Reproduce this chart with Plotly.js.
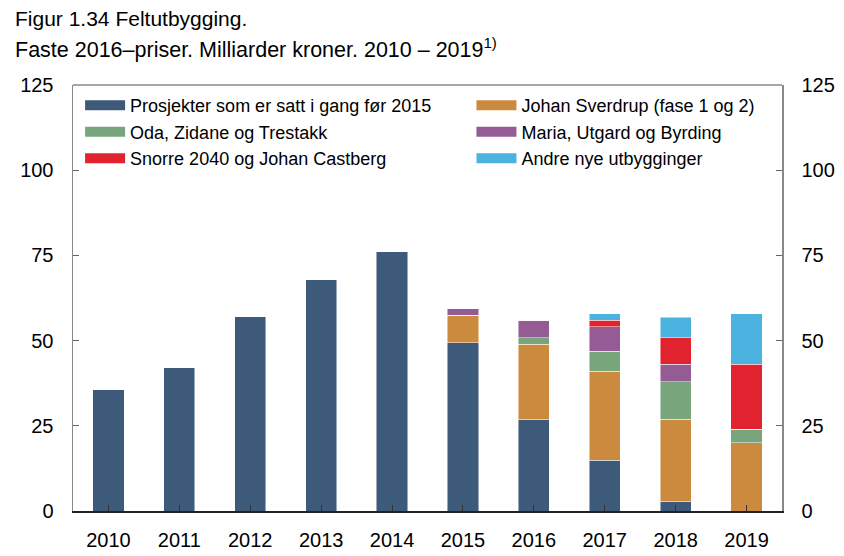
<!DOCTYPE html>
<html>
<head>
<meta charset="utf-8">
<script src="https://cdn.plot.ly/plotly-3.0.1.min.js"></script>
<style>
  html, body { margin: 0; padding: 0; background: #fff; }
  #chart { width: 844px; height: 556px; }
</style>
</head>
<body>
<div id="chart"></div>
<script>
// År og verdier (milliarder kroner, faste 2016-priser)
const years = ['2010', '2011', '2012', '2013', '2014', '2015', '2016', '2017', '2018', '2019'];

const prosjekter = [35.7, 42.2, 57.2, 68, 76, 49.4, 26.9, 14.9, 2.9, 0];
const sverdrup   = [0, 0, 0, 0, 0, 8.0, 22.1, 26.1, 24.0, 20.0];
const oda        = [0, 0, 0, 0, 0, 0, 1.9, 5.9, 11.1, 4.0];
const maria      = [0, 0, 0, 0, 0, 2.0, 5.0, 7.1, 5.0, 0];
const snorre     = [0, 0, 0, 0, 0, 0, 0, 1.9, 7.9, 19.0];
const andre      = [0, 0, 0, 0, 0, 0, 0, 2.0, 6.0, 14.9];

const yTicks = [0, 25, 50, 75, 100, 125];

// col: hvilken legendekolonne serien står i
const series = [
    { name: 'Prosjekter som er satt i gang før 2015', y: prosjekter, color: '#3d5a7a', col: 'legend' },
    { name: 'Johan Sverdrup (fase 1 og 2)', y: sverdrup, color: '#cc8a3f', col: 'legend2' },
    { name: 'Oda, Zidane og Trestakk', y: oda, color: '#78a57c', col: 'legend' },
    { name: 'Maria, Utgard og Byrding', y: maria, color: '#955b94', col: 'legend2' },
    { name: 'Snorre 2040 og Johan Castberg', y: snorre, color: '#e0232f', col: 'legend' },
    { name: 'Andre nye utbygginger', y: andre, color: '#4ab3e0', col: 'legend2' }
];

const data = [];
series.forEach(s => {
    data.push({
        x: years,
        y: s.y,
        type: 'bar',
        name: s.name,
        showlegend: false,
        marker: { color: s.color, line: { color: 'rgba(255,255,255,0.6)', width: 0.8 } }
    });
});
// legendelementer med brede fargefelt
series.forEach(s => {
    data.push({
        x: [null],
        y: [null],
        yaxis: 'y2',
        type: 'scatter',
        mode: 'lines',
        name: s.name,
        legend: s.col,
        line: { color: s.color, width: 12 }
    });
});

const fam = 'Liberation Sans, Arial, sans-serif';
const axisFont = { family: fam, size: 20, color: '#000' };

const legendBase = {
    orientation: 'v',
    traceorder: 'normal',
    y: 0.995,
    xanchor: 'left',
    yanchor: 'top',
    bgcolor: 'rgba(0,0,0,0)',
    font: { family: fam, size: 18, color: '#000' },
    itemwidth: 40
};

const layout = {
    width: 844,
    height: 556,
    margin: { l: 73, r: 62, t: 85, b: 45 },
    paper_bgcolor: '#fff',
    plot_bgcolor: '#fff',
    barmode: 'stack',
    bargap: 0.56,
    font: { family: fam, color: '#000' },
    annotations: [
        { text: 'Figur 1.34 Feltutbygging.', xref: 'paper', yref: 'paper',
          x: -0.085, y: 1.155, xanchor: 'left', yanchor: 'middle', showarrow: false,
          font: { family: fam, size: 21, color: '#000' } },
        { text: 'Faste 2016\u2013priser. Milliarder kroner. 2010 \u2013 2019<sup>1)</sup>', xref: 'paper', yref: 'paper',
          x: -0.085, y: 1.088, xanchor: 'left', yanchor: 'middle', showarrow: false,
          font: { family: fam, size: 21.5, color: '#000' } }
    ],
    xaxis: {
        type: 'category',
        range: [-0.5, 9.5],
        showline: true,
        linecolor: '#222',
        linewidth: 1.5,
        ticks: 'inside',
        ticklen: 6,
        tickcolor: '#333',
        tickfont: axisFont,
        ticklabelstandoff: 10,
        showgrid: false,
        zeroline: false
    },
    yaxis: {
        range: [0, 125],
        tickvals: yTicks,
        ticks: 'inside',
        ticklen: 6,
        tickcolor: '#666',
        showline: true,
        linecolor: '#888',
        linewidth: 1.5,
        tickfont: axisFont,
        ticklabelstandoff: 14,
        showgrid: false,
        zeroline: false
    },
    yaxis2: {
        overlaying: 'y',
        anchor: 'x',
        side: 'right',
        range: [0, 125],
        tickvals: yTicks,
        ticks: 'inside',
        ticklen: 6,
        tickcolor: '#666',
        showline: true,
        linecolor: '#888',
        linewidth: 1.5,
        tickfont: axisFont,
        ticklabelstandoff: 14,
        showgrid: false,
        zeroline: false
    },
    shapes: [
        { type: 'line', xref: 'paper', yref: 'paper', x0: 0, x1: 1, y0: 1, y1: 1,
          line: { color: '#888', width: 1.5 } }
    ],
    legend: Object.assign({}, legendBase, { x: 0.01 }),
    legend2: Object.assign({}, legendBase, { x: 0.562 })
};

Plotly.newPlot('chart', data, layout, { displayModeBar: false, staticPlot: true });
</script>
</body>
</html>
